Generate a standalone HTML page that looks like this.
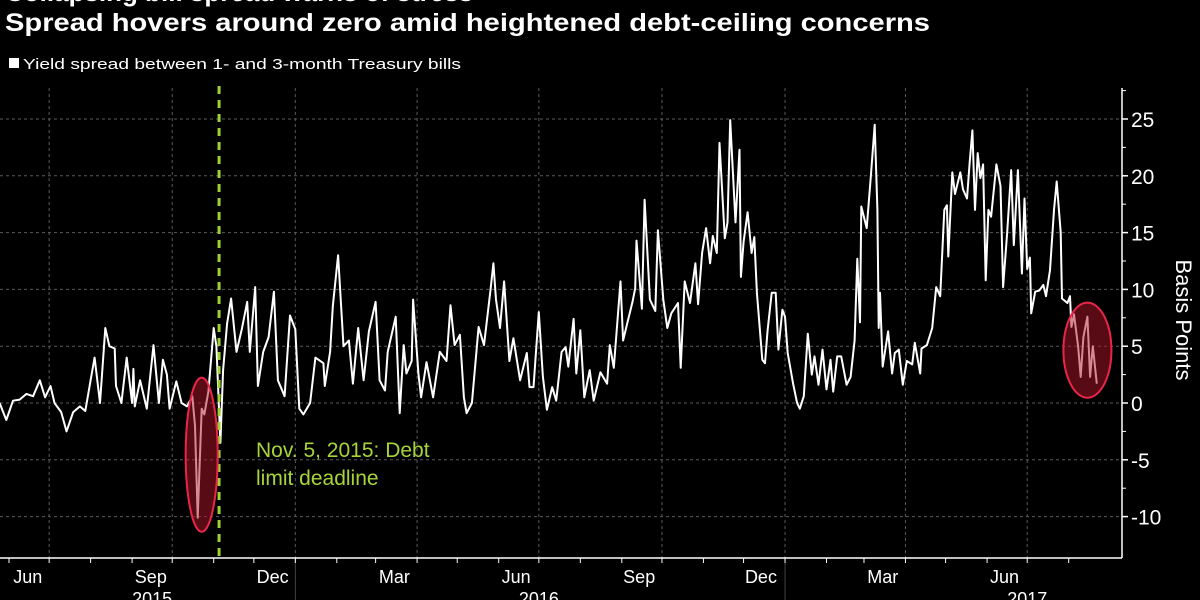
<!DOCTYPE html>
<html><head><meta charset="utf-8">
<style>
html,body{margin:0;padding:0;background:#000;}
svg{display:block;font-family:"Liberation Sans",sans-serif;}
</style></head>
<body>
<svg id="chart" width="1200" height="600" viewBox="0 0 1200 600">
  <rect x="0" y="0" width="1200" height="600" fill="#000"/>
  <text x="5" y="1" font-size="26" font-weight="bold" fill="#fff">Collapsing bill spread warns of stress</text>
  <text x="5" y="31" font-size="25" font-weight="bold" fill="#fff" textLength="925" lengthAdjust="spacingAndGlyphs">Spread hovers around zero amid heightened debt-ceiling concerns</text>
  <rect x="9" y="58" width="10" height="10" fill="#fff"/>
  <text x="23" y="69" font-size="15" fill="#fff" textLength="438" lengthAdjust="spacingAndGlyphs">Yield spread between 1- and 3-month Treasury bills</text>
  <g id="grid"></g>
  <g id="axes"></g>
  <g id="series"></g>
  <g id="overlay"></g>
  <text transform="translate(1176,320) rotate(90)" text-anchor="middle" font-size="22" fill="#fff">Basis Points</text>
</svg>
<script>
// day offsets from 2015-06-01
const days = [-7,-2,3,8,13,18,23,27,31,34,39,43,48,53,57,61,64,68,72,75,79,80,84,88,92,93,94,98,103,108,112,115,118,120,125,129,133,137,139,141,144,146,149,153,155,158,160,163,166,170,174,178,180,184,186,190,194,198,201,206,210,214,217,220,225,229,235,236,240,242,246,250,254,257,261,265,269,274,277,
281,283,289,292,295,297,301,302,306,308,312,317,322,327,330,333,337,340,342,346,351,355,360,362,364,367,370,374,377,382,387,389,392,396,399,402,406,409,413,416,418,422,424,427,430,434,437,442,447,449,452,457,459,462,466,468,469,473,475,479,483,485,489,492,495,500,502,505,509,513,515,518,521,524,526,529,531,535,537,539,543,546,
547,549,552,555,557,559,563,565,567,570,573,575,578,580,582,586,589,591,594,597,600,602,605,608,611,614,616,619,622,626,629,632,634,636,637,641,644,647,649,650,651,653,657,660,662,665,668,671,675,677,681,682,686,690,693,696,699,701,702,705,707,711,713,716,718,720,722,724,726,728,730,732,734,738,741,743,746,749,751,754,757,759,761,763,764,767,770,773,775,778,781,783,786,787,791,793,794,796,799,801,803,806,808,810,813];
const spread = [0,-1.5,0.2,0.3,0.8,0.6,2,0.5,1.5,0,-0.8,-2.5,-0.8,-0.3,-0.7,2,4,0,6.6,5,4.8,1.5,0,4,0,3,-0.3,2,-0.5,5.1,0,3.8,2.5,-0.5,1.9,0,-0.3,0.6,-2,-10.1,-0.5,-1,1,6.6,5,-3.5,2.9,7,9.2,4.5,6.5,8.9,4.5,10.2,1.5,4.5,5.8,9.8,2,0.6,7.7,6.5,-0.5,-1,0,4,3.5,1.5,4.5,8.5,13,5,5.5,1.7,6.6,2,6.3,8.9,2,
1.1,4.5,7.6,-0.9,5.1,2.6,3.7,9.1,2.6,0.5,3.6,0.5,4.5,3.7,8.6,5.1,6,0.5,-0.9,0,6.7,5.1,10.1,12.3,9.1,6.6,10.7,3.7,5.7,2,4.4,1.4,1.4,8,2.3,-0.6,1.4,0.2,4.5,4.9,3.2,7.4,2.6,6.4,0.5,2.9,0.2,2.7,1.7,5.1,3.1,10.7,5.5,7,8.9,10.1,14.3,8.3,17.9,9.1,8.1,15.2,9.1,6.6,7.9,8.8,3.1,10.7,8.8,12.3,8.7,13.2,15.4,12.3,14.7,13.2,22.9,14.5,15.9,24.9,15.9,22.3,
11.1,14.2,16.8,13.2,14.6,9.7,3.8,3.5,6.4,9.7,9.7,4.7,8.2,7.6,4.4,1.7,0,-0.5,0.6,6.1,2.5,4.1,1.6,4.7,1.2,3.8,1,4.1,4.1,1.6,2.3,5.5,12.7,7.1,17.3,15.4,19.8,24.5,17,6.6,9.7,3.2,6.3,2.6,4.4,4.7,1.6,3.7,3.4,5.3,2.6,4.8,5.1,6.6,10.2,9.4,17,17.4,12.9,20.3,18.4,20.3,18.8,18,21.2,24,17,22,19.8,21,10.8,17,16.4,21,19.1,10.2,14.9,20.5,13.9,20.5,11.4,18,11.8,12.8,7.9,9.8,9.9,10.4,9.4,11.7,17,19.5,15,9.2,8.8,9.4,6.7,7.8,5,2.3,5.8,7.6,2.3,5,1.7];
const yTicks = [-10,-5,0,5,10,15,20,25];
const monthLabels = ["Jun","Sep","Dec","Mar","Jun","Sep","Dec","Mar","Jun"];
const monthLabelDays = [14,106,197,288,379,471,562,653,744];
const yearLabels = ["2015","2016","2017"];
const yearLabelDays = [107,396,761];
const yearBoundaryDays = [214,580];
const quarterGridDays = [30,122,214,305,396,488,580,670,761];
const monthTickDays = [0,30,61,92,122,153,183,214,245,274,305,335,366,396,427,458,488,519,549,580,611,639,670,700,731,761,792];
const debtDeadlineDay = 157;
const circleDays = [[139,149],[801,811]];

const X = d => 9 + d * 1.338;
const Y = v => 403 - v * 11.36;
const NS = "http://www.w3.org/2000/svg";
function mk(parent, tag, attrs){const e=document.createElementNS(NS,tag);for(const k in attrs)e.setAttribute(k,attrs[k]);parent.appendChild(e);return e;}
const grid=document.getElementById('grid'), axes=document.getElementById('axes'), series=document.getElementById('series'), overlay=document.getElementById('overlay');

yTicks.forEach(t=>{
  const l=mk(grid,'line',{x1:0,x2:1122,y1:Y(t),y2:Y(t),stroke:'#5a5a5a','stroke-width':1,'stroke-dasharray':'3,3'});
  
  
  const tk=mk(axes,'line',{x1:1122,x2:1128,y1:Y(t),y2:Y(t),stroke:'#fff','stroke-width':1.5});
  
  
  const mt=mk(axes,'line',{x1:1122,x2:1126,y1:Y(t+2.5),y2:Y(t+2.5),stroke:'#fff','stroke-width':1});
  
  
  const tx=mk(axes,'text',{x:1131,y:Y(t)+8,'font-size':21,fill:'#fff'});
  tx.textContent=String(t);
  
  
});
quarterGridDays.forEach(d=>{
  const l=mk(grid,'line',{x1:X(d),x2:X(d),y1:88,y2:558,stroke:'#5a5a5a','stroke-width':1,'stroke-dasharray':'3,3'});
  
  
});
yearBoundaryDays.forEach(d=>{
  const l=mk(axes,'line',{x1:X(d),x2:X(d),y1:558,y2:600,stroke:'#444','stroke-width':1});
  
  
});
const xa=mk(axes,'line',{x1:0,x2:1122,y1:558,y2:558,stroke:'#fff','stroke-width':1.5});


const ya=mk(axes,'line',{x1:1122,x2:1122,y1:88,y2:558,stroke:'#fff','stroke-width':1.5});


monthTickDays.forEach(d=>{
  const t=mk(axes,'line',{x1:X(d),x2:X(d),y1:558,y2:563,stroke:'#fff','stroke-width':1});
  
  
});
monthLabels.forEach((m,i)=>{
  const t=mk(axes,'text',{x:X(monthLabelDays[i]),y:583,'font-size':18,fill:'#fff','text-anchor':'middle'});
  t.textContent=m;
  
  
});
yearLabels.forEach((m,i)=>{
  const t=mk(axes,'text',{x:X(yearLabelDays[i]),y:605,'font-size':18,fill:'#fff','text-anchor':'middle'});
  t.textContent=m;
  
  
});

const pts=days.map((d,i)=>X(d).toFixed(1)+','+Y(spread[i]).toFixed(1)).join(' ');
const line=mk(series,'polyline',{points:pts,fill:'none',stroke:'#fff','stroke-width':2,'stroke-linejoin':'round'});



const dl=mk(overlay,'line',{x1:X(debtDeadlineDay),x2:X(debtDeadlineDay),y1:86,y2:556,stroke:'#9fd230','stroke-width':3,'stroke-dasharray':'8,6'});


const a1=mk(overlay,'text',{x:256,y:457,'font-size':21,fill:'#a6d43a'});
a1.textContent='Nov. 5, 2015: Debt';


const a2=mk(overlay,'text',{x:256,y:485,'font-size':21,fill:'#a6d43a'});
a2.textContent='limit deadline';



circleDays.forEach((w,i)=>{
  const idx=days.map((d,j)=>j).filter(j=>days[j]>=w[0]-3&&days[j]<=w[1]+3);
  const vals=idx.map(j=>spread[j]);
  const lo=Math.min(...vals), hi=Math.max(...vals);
  const cx=(X(w[0])+X(w[1]))/2, cy=(Y(lo)+Y(hi))/2;
  const rx=i===0?16:24, ry=Math.max(33,(Y(lo)-Y(hi))/2+14);
  const e=mk(overlay,'ellipse',{cx:cx,cy:cy,rx:rx,ry:ry,fill:'rgba(175,20,42,0.5)',stroke:'#e8264a','stroke-width':2});
  
  
});
</script>
</body></html>
